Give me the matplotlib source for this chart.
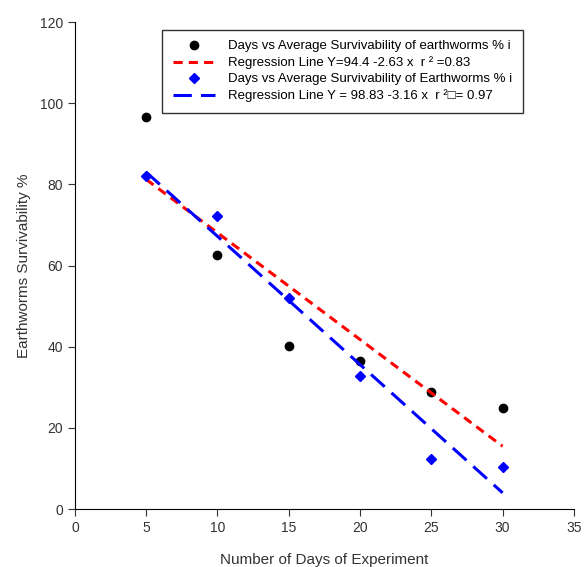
import numpy as np
import matplotlib.pyplot as plt

plt.rcParams['font.family'] = ['Liberation Sans', 'DejaVu Sans']

days = [5, 10, 15, 20, 25, 30]
surv_a = [96.7, 62.6, 40.1, 36.5, 28.9, 24.9]
surv_b = [82.0, 72.2, 52.0, 32.8, 12.3, 10.3]
fit_a = (94.4, -2.63)
fit_b = (98.83, -3.16)
labels = ["Days vs Average Survivability of earthworms % i",
          "Regression Line Y=94.4 -2.63 x  r \u00b2 =0.83",
          "Days vs Average Survivability of Earthworms % i",
          "Regression Line Y = 98.83 -3.16 x  r \u00b2\u25a1= 0.97"]

fig = plt.figure(figsize=(5.85, 5.67), dpi=100)
ax = fig.add_axes([0.128, 0.102, 0.853, 0.859])

x = np.array(days, dtype=float)
h1, = ax.plot(days, surv_a, 'o', color='black', markersize=6, linestyle='none')
h2, = ax.plot(x, fit_a[0] + fit_a[1] * x, color='red', lw=2.2, dashes=(3, 2))
h3, = ax.plot(days, surv_b, 'D', color='blue', markersize=5, linestyle='none')
h4, = ax.plot(x, fit_b[0] + fit_b[1] * x, color='blue', lw=2.2, dashes=(6, 3))

ax.set_xlim(0, 35)
ax.set_ylim(0, 120)
ax.set_xticks(range(0, 36, 5))
ax.set_yticks(range(0, 121, 20))
ax.spines['top'].set_visible(False)
ax.spines['right'].set_visible(False)
ax.tick_params(labelsize=10, colors='#333333', length=5, labelcolor='#333333')
ax.set_xlabel("Number of Days of Experiment", fontsize=11, color='#333333', labelpad=13)
ax.set_ylabel("Earthworms Survivability %", fontsize=11, color='#333333', labelpad=6)

leg = ax.legend([h1, h2, h3, h4], labels, loc='upper left', bbox_to_anchor=(0.162, 0.998),
                fontsize=9.5, frameon=True, fancybox=False, edgecolor='black',
                handlelength=3.2, borderpad=0.8, labelspacing=0.3, handletextpad=1.0)
leg.get_frame().set_linewidth(1.0)

fig.savefig('out.png', dpi=100)
